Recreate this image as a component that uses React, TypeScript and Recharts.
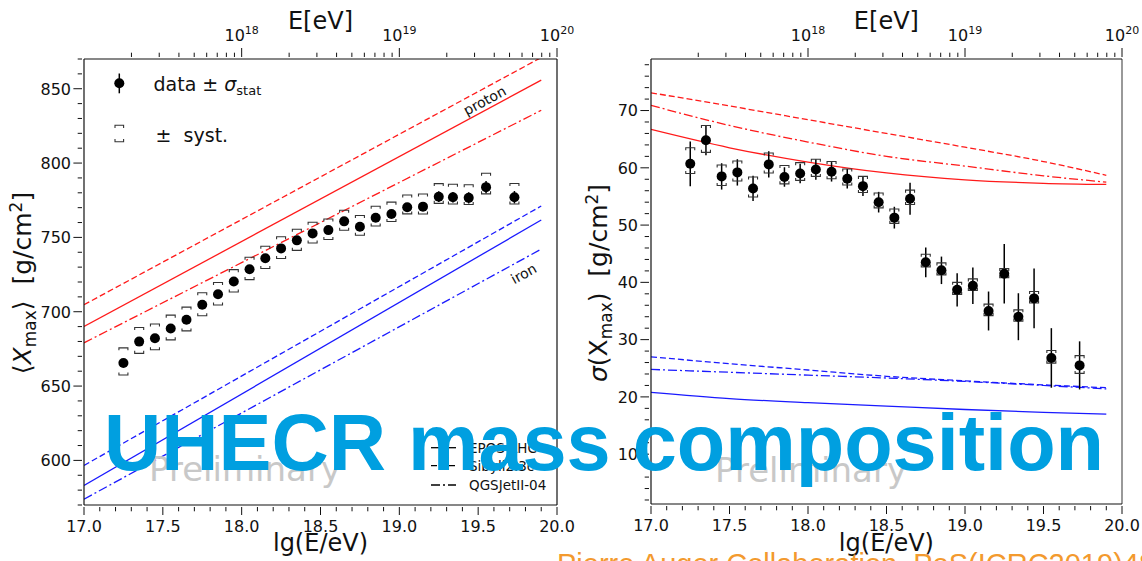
import React from "react";
import { ComposedChart, Line, Scatter, XAxis, YAxis, ErrorBar, ReferenceLine } from "recharts";

// energy bins, lg(E/eV)
const lgE = [17.25, 17.35, 17.45, 17.55, 17.65, 17.75, 17.85, 17.95, 18.05, 18.15, 18.25, 18.35, 18.45, 18.55, 18.65, 18.75, 18.85, 18.95, 19.05, 19.15, 19.25, 19.34, 19.44, 19.55, 19.73];

// <Xmax> [g/cm2]
const meanXmax = [665.5, 679.9, 682.2, 688.7, 694.6, 704.7, 711.7, 720.3, 728.6, 736.0, 742.6, 748.0, 752.7, 754.9, 760.8, 757.2, 763.2, 765.7, 770.3, 770.7, 777.4, 777.0, 776.6, 783.8, 777.0];
const meanStat = [1.0, 1.0, 1.0, 1.0, 1.0, 1.0, 1.0, 1.0, 1.0, 1.1, 1.1, 1.2, 1.3, 1.4, 1.5, 1.6, 1.7, 1.9, 2.1, 2.3, 3.6, 3.6, 3.8, 4.2, 4.2];
const meanSysHi = [10.2, 9.5, 9.5, 9.0, 8.5, 8.1, 8.0, 8.0, 8.0, 8.0, 7.8, 7.5, 7.5, 7.5, 7.5, 7.5, 7.8, 8.0, 8.2, 8.5, 8.8, 8.8, 8.8, 9.4, 9.3];
const meanSysLo = [8.1, 7.9, 7.8, 7.6, 7.5, 7.4, 7.2, 7.0, 7.0, 6.9, 6.8, 6.7, 6.5, 6.3, 6.0, 5.8, 5.5, 5.0, 4.5, 5.0, 4.5, 4.5, 4.5, 4.5, 4.5];

// sigma(Xmax) [g/cm2]
const sigXmax = [60.7, 64.8, 58.5, 59.2, 56.4, 60.6, 58.4, 59.0, 59.7, 59.3, 58.1, 56.8, 54.0, 51.3, 54.6, 43.5, 42.1, 38.7, 39.4, 35.0, 41.5, 34.0, 37.2, 26.8, 25.5];
const sigStat = [3.9, 2.6, 2.3, 2.3, 2.2, 2.3, 1.7, 1.7, 1.8, 1.7, 1.7, 1.7, 1.8, 1.9, 2.8, 2.6, 2.4, 2.9, 3.2, 3.4, 5.2, 4.1, 5.2, 5.2, 4.2];
const sigSysHi = [2.8, 2.6, 2.0, 2.0, 2.0, 2.0, 2.0, 1.9, 1.8, 1.8, 1.7, 1.7, 1.6, 1.5, 1.5, 1.4, 1.3, 1.3, 1.2, 1.2, 0.9, 1.2, 1.2, 1.3, 1.7];
const sigSysLo = [1.7, 2.1, 1.6, 1.5, 1.5, 1.5, 1.2, 1.2, 1.2, 1.2, 1.1, 1.1, 1.0, 1.0, 1.0, 0.8, 0.8, 0.8, 0.8, 0.8, 0.7, 0.8, 0.8, 0.9, 1.4];

// model predictions for <Xmax> (straight lines)
const meanModelLg = [17.0, 19.9];
const meanProtonEpos = [690.1, 855.8];
const meanProtonSibyll = [704.7, 871.0];
const meanProtonQgs = [679.1, 835.5];
const meanIronEpos = [583.1, 761.7];
const meanIronSibyll = [596.6, 771.1];
const meanIronQgs = [573.9, 742.1];

// model predictions for sigma(Xmax)
const sigModelLg = [17.0, 17.5, 18.0, 18.5, 19.0, 19.5, 19.9];
const sigProtonEpos = [66.7, 63.5, 61.0, 59.1, 57.9, 57.3, 57.1];
const sigProtonSibyll = [73.1, 70.8, 68.4, 66.0, 63.6, 61.1, 58.7];
const sigProtonQgs = [70.9, 67.4, 64.5, 62.0, 60.3, 58.6, 57.5];
const sigIronEpos = [20.8, 19.7, 19.0, 18.4, 17.8, 17.3, 17.0];
const sigIronSibyll = [27.0, 25.8, 24.7, 23.6, 22.8, 22.1, 21.6];
const sigIronQgs = [24.8, 24.3, 23.8, 23.3, 22.7, 22.0, 21.4];

const modelNames = ["EPOS-LHC", "Sibyll2.3c", "QGSJetII-04"];

// axis ticks
const xTicks = Array.from({ length: 31 }, (_, i) => +(17 + i * 0.1).toFixed(1));
const topExponents = [18, 19, 20];
const topTicks = [...topExponents, ...[17, 18, 19].flatMap((d) => [2, 3, 4, 5, 6, 7, 8, 9].map((k) => d + Math.log10(k)))].sort((a, b) => a - b);
const meanTicks = Array.from({ length: 31 }, (_, i) => 570 + i * 10);
const sigTicks = Array.from({ length: 39 }, (_, i) => 2 + i * 2);

const FONT = "'DejaVu Sans', sans-serif";
const AX = "#111";
const RED = "#ff1a1a";
const BLUE = "#1a1aff";
const DASH = "6 3";
const DASHDOT = "9 3 2 3";

const isStep = (v: number, step: number) => Math.abs(v / step - Math.round(v / step)) < 1e-6;

function BottomTick({ x, y, payload }: any) {
  const major = isStep(payload.value, 0.5);
  return (
    <g>
      <line x1={x} x2={x} y1={y} y2={y + (major ? 8 : 4.3)} stroke={AX} strokeWidth={1} />
      {major && (
        <text x={x} y={y + 24.5} textAnchor="middle" fontSize={16} fontFamily={FONT} fill={AX}>
          {payload.value.toFixed(1)}
        </text>
      )}
    </g>
  );
}

function TopTick({ x, y, payload }: any) {
  const major = isStep(payload.value, 1);
  return (
    <g>
      <line x1={x} x2={x} y1={y} y2={y - (major ? 9 : 4.3)} stroke={AX} strokeWidth={1} />
      {major && (
        <text x={x} y={y - 16} textAnchor="middle" fontSize={16} fontFamily={FONT} fill={AX}>
          10<tspan dy={-7} fontSize={11}>{Math.round(payload.value)}</tspan>
        </text>
      )}
    </g>
  );
}

const makeYTick = (step: number) => ({ x, y, payload }: any) => {
  const major = isStep(payload.value, step);
  return (
    <g>
      <line x1={x} x2={x - (major ? 8.6 : 4.3)} y1={y} y2={y} stroke={AX} strokeWidth={1} />
      {major && (
        <text x={x - 11} y={y + 5.8} textAnchor="end" fontSize={16} fontFamily={FONT} fill={AX}>
          {payload.value}
        </text>
      )}
    </g>
  );
};

const Dot = (p: any) => <circle cx={p.cx} cy={p.cy} r={5} fill="#000" />;
const CapUp = (p: any) => (
  <path d={`M${p.cx - 4.5},${p.cy + 2.5}V${p.cy}H${p.cx + 4.5}V${p.cy + 2.5}`} fill="none" stroke="#333" strokeWidth={1.1} />
);
const CapDown = (p: any) => (
  <path d={`M${p.cx - 4.5},${p.cy - 2.5}V${p.cy}H${p.cx + 4.5}V${p.cy - 2.5}`} fill="none" stroke="#333" strokeWidth={1.1} />
);

interface PanelProps {
  left: number;
  width: number;
  margin: { top: number; right: number; bottom: number; left: number };
  yWidth: number;
  yDomain: [number, number];
  yTicks: number[];
  yStep: number;
  rows: any[];
  curve: "linear" | "monotone";
  values: number[];
  stat: number[];
  sysHi: number[];
  sysLo: number[];
  rightSpine: string;
}

function Panel(p: PanelProps) {
  const pts = lgE.map((lg, i) => ({ lg, v: p.values[i], e: p.stat[i] }));
  const up = lgE.map((lg, i) => ({ lg, v: p.values[i] + p.sysHi[i] }));
  const dn = lgE.map((lg, i) => ({ lg, v: p.values[i] - p.sysLo[i] }));
  const series = [
    { key: "pE", color: RED, dash: undefined },
    { key: "pS", color: RED, dash: DASH },
    { key: "pQ", color: RED, dash: DASHDOT },
    { key: "fE", color: BLUE, dash: undefined },
    { key: "fS", color: BLUE, dash: DASH },
    { key: "fQ", color: BLUE, dash: DASHDOT },
  ];
  return (
    <div style={{ position: "absolute", left: p.left, top: 0 }}>
      <ComposedChart width={p.width} height={561} data={p.rows} margin={p.margin}>
        <XAxis
          dataKey="lg"
          type="number"
          domain={[17, 20]}
          allowDataOverflow
          ticks={xTicks}
          interval={0}
          tickSize={0}
          tickLine={false}
          height={30}
          axisLine={{ stroke: AX, strokeWidth: 1.2 }}
          tick={<BottomTick />}
        />
        <XAxis
          xAxisId="top"
          dataKey="lg"
          orientation="top"
          type="number"
          domain={[17, 20]}
          allowDataOverflow
          ticks={topTicks}
          interval={0}
          tickSize={0}
          tickLine={false}
          height={30}
          axisLine={{ stroke: AX, strokeWidth: 1.2 }}
          tick={<TopTick />}
        />
        <YAxis
          type="number"
          domain={p.yDomain}
          allowDataOverflow
          ticks={p.yTicks}
          interval={0}
          tickSize={0}
          tickLine={false}
          width={p.yWidth}
          axisLine={{ stroke: AX, strokeWidth: 1.2 }}
          tick={makeYTick(p.yStep)}
        />
        <ReferenceLine x={20} stroke={p.rightSpine} strokeWidth={p.rightSpine === AX ? 1.2 : 2} />
        {/* invisible series that binds the top energy axis */}
        <Line
          xAxisId="top"
          dataKey="pE"
          stroke="none"
          dot={false}
          activeDot={false}
          legendType="none"
          isAnimationActive={false}
        />
        {series.map((s) => (
          <Line
            key={s.key}
            dataKey={s.key}
            type={p.curve}
            stroke={s.color}
            strokeWidth={1.3}
            strokeDasharray={s.dash}
            dot={false}
            activeDot={false}
            isAnimationActive={false}
          />
        ))}
        <Scatter data={up} dataKey="v" shape={CapUp} isAnimationActive={false} />
        <Scatter data={dn} dataKey="v" shape={CapDown} isAnimationActive={false} />
        <Scatter data={pts} dataKey="v" shape={Dot} isAnimationActive={false}>
          <ErrorBar dataKey="e" direction="y" width={0} stroke="#000" strokeWidth={1.5} />
        </Scatter>
      </ComposedChart>
    </div>
  );
}

const meanRows = meanModelLg.map((lg, i) => ({
  lg,
  pE: meanProtonEpos[i],
  pS: meanProtonSibyll[i],
  pQ: meanProtonQgs[i],
  fE: meanIronEpos[i],
  fS: meanIronSibyll[i],
  fQ: meanIronQgs[i],
}));

const sigRows = sigModelLg.map((lg, i) => ({
  lg,
  pE: sigProtonEpos[i],
  pS: sigProtonSibyll[i],
  pQ: sigProtonQgs[i],
  fE: sigIronEpos[i],
  fS: sigIronSibyll[i],
  fQ: sigIronQgs[i],
}));

function Overlay() {
  const t = { fontFamily: FONT, fill: AX };
  const legendDash = [undefined, DASH, DASHDOT];
  const legendY = [447.7, 465.7, 485];
  return (
    <svg width={1142} height={561} style={{ position: "absolute", left: 0, top: 0, pointerEvents: "none" }}>
      {/* axis titles */}
      <text x={320.5} y={29} textAnchor="middle" fontSize={24} {...t}>E[eV]</text>
      <text x={886.4} y={29} textAnchor="middle" fontSize={24} {...t}>E[eV]</text>
      <text x={320.5} y={551} textAnchor="middle" fontSize={24} {...t}>lg(E/eV)</text>
      <text x={886.4} y={551} textAnchor="middle" fontSize={24} {...t}>lg(E/eV)</text>
      <text transform="translate(31,283) rotate(-90)" textAnchor="middle" fontSize={25} style={{ whiteSpace: "pre" }} {...t}>
        {"⟨"}
        <tspan fontStyle="italic">X</tspan>
        <tspan fontSize={17} dy={5}>max</tspan>
        <tspan dy={-5}>{"⟩  [g/cm"}</tspan>
        <tspan fontSize={17} dy={-9}>2</tspan>
        <tspan dy={9}>]</tspan>
      </text>
      <text transform="translate(607,283) rotate(-90)" textAnchor="middle" fontSize={25} style={{ whiteSpace: "pre" }} {...t}>
        <tspan fontStyle="italic">σ</tspan>
        <tspan>(X</tspan>
        <tspan fontSize={17} dy={5}>max</tspan>
        <tspan dy={-5}>{")  [g/cm"}</tspan>
        <tspan fontSize={17} dy={-9}>2</tspan>
        <tspan dy={9}>]</tspan>
      </text>

      {/* upper legend */}
      <line x1={119.3} x2={119.3} y1={73.5} y2={93.3} stroke="#000" strokeWidth={1.5} />
      <circle cx={119.3} cy={83.3} r={5} fill="#000" />
      <text x={153.5} y={90.7} fontSize={19} {...t}>
        data ± <tspan fontStyle="italic">σ</tspan>
        <tspan fontSize={13} dy={4}>stat</tspan>
      </text>
      <path d="M115,128V125.3H123.6V128" fill="none" stroke="#333" strokeWidth={1.1} />
      <path d="M115,139V141.7H123.6V139" fill="none" stroke="#333" strokeWidth={1.1} />
      <text x={155.6} y={141.7} fontSize={19} style={{ whiteSpace: "pre" }} {...t}>±  syst.</text>

      {/* model legend */}
      {modelNames.map((name, i) => (
        <g key={name}>
          <line x1={431} x2={456} y1={legendY[i]} y2={legendY[i]} stroke="#000" strokeWidth={1.3} strokeDasharray={legendDash[i]} />
          <text x={469} y={legendY[i] + 5} fontSize={13.5} {...t}>{name}</text>
        </g>
      ))}

      {/* annotations */}
      <text transform="translate(487,105) rotate(-28.2)" textAnchor="middle" fontSize={14} {...t}>proton</text>
      <text transform="translate(526,278) rotate(-28.6)" textAnchor="middle" fontSize={14} {...t}>iron</text>

      <text x={149} y={481} fontSize={34} fontFamily={FONT} fill="#c8c8c8">Preliminary</text>
      <text x={715} y={482} fontSize={34} fontFamily={FONT} fill="#c8c8c8">Preliminary</text>

      <text
        x={104}
        y={470}
        fontSize={80}
        fontWeight="bold"
        fontFamily="'Liberation Sans', Arial, sans-serif"
        fill="#009fe0"
        textLength={1000}
        lengthAdjust="spacingAndGlyphs"
      >
        UHECR mass composition
      </text>
      <text x={557} y={573.5} fontSize={29} fontFamily="'Liberation Sans', Arial, sans-serif" fill="#f39a2e">
        Pierre Auger Collaboration, PoS(ICRC2019)482
      </text>
    </svg>
  );
}

export default function App() {
  return (
    <div style={{ position: "absolute", left: 0, top: 0, width: 1142, height: 561, overflow: "hidden", background: "#fff" }}>
      <Panel
        left={0}
        width={600}
        margin={{ top: 29, right: 43, bottom: 26, left: 0 }}
        yWidth={84}
        yDomain={[570, 870]}
        yTicks={meanTicks}
        yStep={50}
        rows={meanRows}
        curve="linear"
        values={meanXmax}
        stat={meanStat}
        sysHi={meanSysHi}
        sysLo={meanSysLo}
        rightSpine={AX}
      />
      <Panel
        left={571}
        width={571}
        margin={{ top: 29, right: 20, bottom: 27, left: 0 }}
        yWidth={80}
        yDomain={[1.3, 79]}
        yTicks={sigTicks}
        yStep={10}
        rows={sigRows}
        curve="monotone"
        values={sigXmax}
        stat={sigStat}
        sysHi={sigSysHi}
        sysLo={sigSysLo}
        rightSpine="#999"
      />
      <Overlay />
    </div>
  );
}
